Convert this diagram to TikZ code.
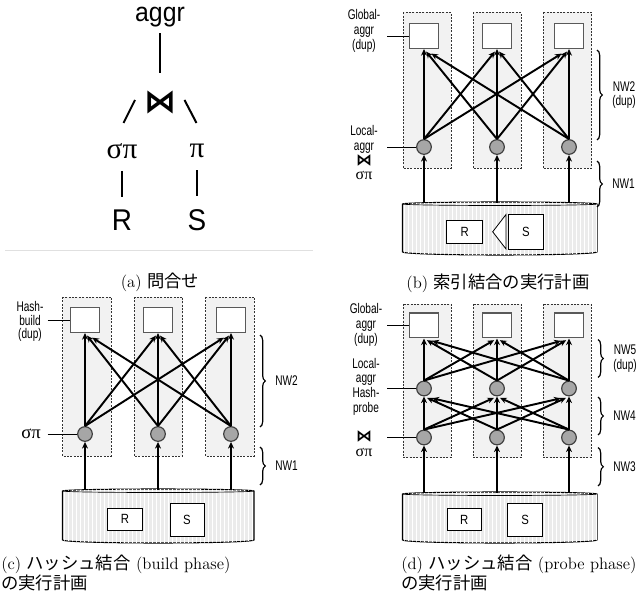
\documentclass[tikz,border=0pt]{standalone}
\usepackage{fontspec}
\setsansfont{Liberation Sans}
\newfontfamily\nsans{Liberation Sans}[FakeStretch=0.72]
\newfontfamily\asans{Liberation Sans}[FakeStretch=0.93]
\newfontfamily\tsans{Liberation Sans}[FakeStretch=0.85]
\newfontfamily\jpfont{Noto Sans CJK JP}
\newfontfamily\grkfont{Liberation Serif}
\newfontfamily\bowfont{DejaVu Sans}
\newfontfamily\capfont{Latin Modern Roman}
\usetikzlibrary{arrows.meta}
\usetikzlibrary{patterns}
\usetikzlibrary{decorations.pathreplacing}
\usetikzlibrary{positioning}
\tikzset{>={Stealth[length=5pt,width=4.5pt]}}
\tikzset{
  col/.style={draw=black!80, dash pattern=on 1.5pt off 1pt, line width=0.5pt, fill=black!5},
  opbox/.style={draw=black!65, fill=white, line width=1pt, minimum width=22pt, minimum height=18.5pt, inner sep=0pt},
  opnode/.style={circle, draw=black!75, fill=black!35, line width=0.9pt, minimum size=11pt, inner sep=0pt},
  flow/.style={->, line width=1.45pt},
  nearhead/.style={shorten >=2.5pt},
  farhead/.style={shorten >=6.5pt},
  tbl/.style={draw, fill=white, line width=0.7pt, font=\tsans\fontsize{10}{12}\selectfont, inner sep=0pt},
  cyl/.style={draw=black, line width=0.8pt, fill=black!8, postaction={pattern=vertical lines, pattern color=white}},
  lbl/.style={align=center, inner sep=0pt, font=\nsans\fontsize{10.5}{11}\selectfont},
  lead/.style={line width=0.6pt},
  nwbrace/.style={decorate, decoration={brace, amplitude=4pt}, line width=0.9pt},
  qline/.style={line width=1.5pt},
  captxt/.style={inner sep=0pt, font=\capfont\fontsize{12.5}{15}\selectfont},
}
\newcommand{\bow}{{\bowfont\bfseries\fontsize{12}{10}\selectfont ⋈}}
\newcommand{\sgp}{{\grkfont\fontsize{12}{10}\selectfont σπ}}
\newcommand{\jtxt}[1]{{\jpfont\fontsize{13}{15}\selectfont #1}}

\begin{document}
\begin{tikzpicture}[x=0.75pt, y=-0.75pt]
\useasboundingbox (0,0) rectangle (642,605);

% (a) query
\node[inner sep=0pt, font=\asans\fontsize{20}{20}\selectfont] (ag) at (160,17) {aggr};
\node[inner sep=0pt, font=\bowfont\bfseries\fontsize{24}{24}\selectfont] (bt) at (160,102) {⋈};
\node[inner sep=0pt, font=\grkfont\fontsize{22}{22}\selectfont] (spa) at (122,151) {σπ};
\node[inner sep=0pt, font=\grkfont\fontsize{22}{22}\selectfont] (pa) at (197,151) {π};
\node[inner sep=0pt, font=\asans\fontsize{22.5}{22}\selectfont] (ra) at (122,220.5) {R};
\node[inner sep=0pt, font=\asans\fontsize{22.5}{22}\selectfont] (sa) at (197,220.5) {S};
\draw[qline, shorten <=4.5pt, shorten >=12.5pt] (ag.south) -- (bt.north);
\coordinate (sl1) at (135,100);
\coordinate (sl2) at (123.5,123);
\coordinate (sr1) at (184.5,100);
\coordinate (sr2) at (196.5,123);
\draw[qline] (sl1) -- (sl2);
\draw[qline] (sr1) -- (sr2);
\draw[qline, shorten <=9pt, shorten >=10pt] (spa.south) -- (ra.north);
\draw[qline, shorten <=9pt, shorten >=10pt] (pa.south) -- (sa.north);
\draw[black!12, line width=0.6pt] (5,250) -- (313,250);
\node[captxt] (capa) at (160,282) {(a) \jtxt{問合せ}};

% (b) index join
\draw[col] (403,12.5) rectangle (451,168.5);
\draw[col] (473,12.5) rectangle (521,168.5);
\draw[col] (543,12.5) rectangle (591.5,168.5);
\node[opbox] (gb1) at (424,36) {};
\node[opbox] (gb2) at (497,36) {};
\node[opbox] (gb3) at (569,36) {};
\node[opnode] (lb1) at (424,147) {};
\node[opnode] (lb2) at (497,147) {};
\node[opnode] (lb3) at (569,147) {};
\draw[flow] (lb1.north) -- (gb1.south);
\draw[flow, nearhead] (lb1.north) -- (gb2.south);
\draw[flow, farhead] (lb1.north) -- (gb3.south);
\draw[flow, nearhead] (lb2.north) -- (gb1.south);
\draw[flow] (lb2.north) -- (gb2.south);
\draw[flow, nearhead] (lb2.north) -- (gb3.south);
\draw[flow, farhead] (lb3.north) -- (gb1.south);
\draw[flow, nearhead] (lb3.north) -- (gb2.south);
\draw[flow] (lb3.north) -- (gb3.south);
\draw[cyl] (402.5,204) -- (402.5,252) arc[start angle=180, end angle=0, x radius=97.25, y radius=3]
  -- (597,204) arc[start angle=0, end angle=-180, x radius=97.25, y radius=2] -- cycle;
\draw[line width=0.5pt] (402.5,204) arc[start angle=180, end angle=0, x radius=97.25, y radius=1.5];
\coordinate (ib1) at (424,203);
\coordinate (ib2) at (497,203);
\coordinate (ib3) at (569,203);
\draw[flow] (ib1) -- (lb1.south);
\draw[flow] (ib2) -- (lb2.south);
\draw[flow] (ib3) -- (lb3.south);
\node[tbl, minimum width=27pt, minimum height=17pt] (rb) at (464.7,232) {R};
\node[tbl, minimum width=26pt, minimum height=26pt] (sb) at (525.8,231.8) {S};
\draw[line width=0.6pt, fill=white] (506,214.5) -- (492.7,231.8) -- (506,249) -- cycle;
\node[lbl] (tgb) at (364,31) {Global-\\aggr\\(dup)};
\coordinate (kgb) at (387,36);
\draw[lead] (kgb) -- (gb1.west);
\node[lbl] (tlb) at (364,153) {Local-\\aggr\\\bow\\\sgp};
\coordinate (klb) at (387,147);
\draw[lead] (klb) -- (lb1.west);
\draw[nwbrace] (597,50) -- (597,140) node[midway, right=11pt, lbl] (nwb2) {NW2\\(dup)};
\draw[nwbrace] (597,161) -- (597,207) node[midway, right=11pt, lbl] (nwb1) {NW1};
\node[captxt] (capb) at (498,283) {(b) \jtxt{索引結合の実行計画}};

% (c) hash join, build phase
\draw[col] (62.5,297) rectangle (111,456);
\draw[col] (134,297) rectangle (182.5,456);
\draw[col] (205.5,297) rectangle (254,456);
\node[opbox] (hc1) at (85,320) {};
\node[opbox] (hc2) at (158,320) {};
\node[opbox] (hc3) at (231,320) {};
\node[opnode] (sc1) at (85,434) {};
\node[opnode] (sc2) at (158,434) {};
\node[opnode] (sc3) at (231,434) {};
\draw[flow] (sc1.north) -- (hc1.south);
\draw[flow, nearhead] (sc1.north) -- (hc2.south);
\draw[flow, farhead] (sc1.north) -- (hc3.south);
\draw[flow, nearhead] (sc2.north) -- (hc1.south);
\draw[flow] (sc2.north) -- (hc2.south);
\draw[flow, nearhead] (sc2.north) -- (hc3.south);
\draw[flow, farhead] (sc3.north) -- (hc1.south);
\draw[flow, nearhead] (sc3.north) -- (hc2.south);
\draw[flow] (sc3.north) -- (hc3.south);
\draw[cyl] (62.5,491) -- (62.5,540) arc[start angle=180, end angle=0, x radius=95.75, y radius=3]
  -- (254,491) arc[start angle=0, end angle=-180, x radius=95.75, y radius=2] -- cycle;
\draw[line width=0.5pt] (62.5,491) arc[start angle=180, end angle=0, x radius=95.75, y radius=1.5];
\coordinate (ic1) at (85,490);
\coordinate (ic2) at (158,490);
\coordinate (ic3) at (231,490);
\draw[flow] (ic1) -- (sc1.south);
\draw[flow] (ic2) -- (sc2.south);
\draw[flow] (ic3) -- (sc3.south);
\node[tbl, minimum width=26.5pt, minimum height=16.3pt] (rc) at (125,519.2) {R};
\node[tbl, minimum width=25.5pt, minimum height=24.5pt] (scc) at (187,519.7) {S};
\node[lbl, font=\nsans\fontsize{10.5}{10}\selectfont] (thc) at (30,321.5) {Hash-\\build\\(dup)};
\coordinate (khc) at (47.5,320);
\draw[lead] (khc) -- (hc1.west);
\node[inner sep=0pt, font=\grkfont\fontsize{14}{14}\selectfont] (tsc) at (31,434) {σπ};
\coordinate (ksc) at (47.5,434);
\draw[lead] (ksc) -- (sc1.west);
\draw[nwbrace] (260,335) -- (260,427) node[midway, right=11pt, lbl] (nwc2) {NW2};
\draw[nwbrace] (260,447) -- (260,485) node[midway, right=11pt, lbl] (nwc1) {NW1};
\node[captxt, anchor=north west, align=left] (capc) at (1,555) {(c) \jtxt{ハッシュ結合} (build phase)\\\jtxt{の実行計画}};

% (d) hash join, probe phase
\draw[col] (403,304) rectangle (451,457.5);
\draw[col] (473,304) rectangle (521,457.5);
\draw[col] (543,304) rectangle (591,457.5);
\node[opbox] (gd1) at (424,325.5) {};
\node[opbox] (gd2) at (497,325.5) {};
\node[opbox] (gd3) at (569,325.5) {};
\node[opnode] (hd1) at (424,388.5) {};
\node[opnode] (hd2) at (497,388.5) {};
\node[opnode] (hd3) at (569,388.5) {};
\node[opnode] (pd1) at (424,437.5) {};
\node[opnode] (pd2) at (497,437.5) {};
\node[opnode] (pd3) at (569,437.5) {};
\draw[flow] (hd1.north) -- (gd1.south);
\draw[flow, nearhead] (hd1.north) -- (gd2.south);
\draw[flow, farhead] (hd1.north) -- (gd3.south);
\draw[flow, nearhead] (hd2.north) -- (gd1.south);
\draw[flow] (hd2.north) -- (gd2.south);
\draw[flow, nearhead] (hd2.north) -- (gd3.south);
\draw[flow, farhead] (hd3.north) -- (gd1.south);
\draw[flow, nearhead] (hd3.north) -- (gd2.south);
\draw[flow] (hd3.north) -- (gd3.south);
\draw[flow] (pd1.north) -- (hd1.south);
\draw[flow, nearhead] (pd1.north) -- (hd2.south);
\draw[flow, farhead] (pd1.north) -- (hd3.south);
\draw[flow, nearhead] (pd2.north) -- (hd1.south);
\draw[flow] (pd2.north) -- (hd2.south);
\draw[flow, nearhead] (pd2.north) -- (hd3.south);
\draw[flow, farhead] (pd3.north) -- (hd1.south);
\draw[flow, nearhead] (pd3.north) -- (hd2.south);
\draw[flow] (pd3.north) -- (hd3.south);
\draw[cyl] (402.5,494) -- (402.5,540) arc[start angle=180, end angle=0, x radius=97.25, y radius=3]
  -- (597,494) arc[start angle=0, end angle=-180, x radius=97.25, y radius=2] -- cycle;
\draw[line width=0.5pt] (402.5,494) arc[start angle=180, end angle=0, x radius=97.25, y radius=1.5];
\coordinate (id1) at (424,493);
\coordinate (id2) at (497,493);
\coordinate (id3) at (569,493);
\draw[flow] (id1) -- (pd1.south);
\draw[flow] (id2) -- (pd2.south);
\draw[flow] (id3) -- (pd3.south);
\node[tbl, minimum width=25.3pt, minimum height=16.8pt] (rd) at (464.2,519.5) {R};
\node[tbl, minimum width=26.2pt, minimum height=25pt] (sd) at (525.2,520) {S};
\node[lbl] (tgd) at (366,325) {Global-\\aggr\\(dup)};
\coordinate (kgd) at (387,325.5);
\draw[lead] (kgd) -- (gd1.west);
\node[lbl] (thd) at (366,386.5) {Local-\\aggr\\Hash-\\probe};
\coordinate (khd) at (387,388.5);
\draw[lead] (khd) -- (hd1.west);
\node[lbl] (tpd) at (364,444) {\bow\\\sgp};
\coordinate (kpd) at (387,437.5);
\draw[lead] (kpd) -- (pd1.west);
\draw[nwbrace] (598,339.5) -- (598,377.5) node[midway, right=11pt, lbl] (nwd5) {NW5\\(dup)};
\draw[nwbrace] (598,397) -- (598,435) node[midway, right=11pt, lbl] (nwd4) {NW4};
\draw[nwbrace] (598,447.5) -- (598,486) node[midway, right=11pt, lbl] (nwd3) {NW3};
\node[captxt, anchor=north west, align=left] (capd) at (401,555) {(d) \jtxt{ハッシュ結合} (probe phase)\\\jtxt{の実行計画}};
\end{tikzpicture}
\end{document}
